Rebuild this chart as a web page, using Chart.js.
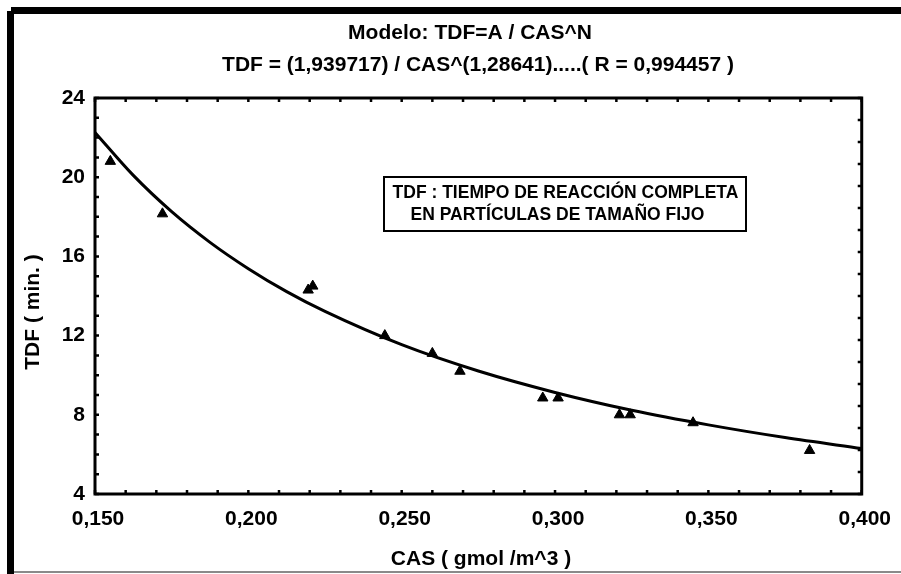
<!DOCTYPE html>
<html>
<head>
<meta charset="utf-8">
<script src="https://cdn.jsdelivr.net/npm/chart.js@4.4.1/dist/chart.umd.min.js"></script>
<style>
  html,body{margin:0;padding:0;background:#fff;}
  #wrap{width:901px;height:574px;position:relative;}
</style>
</head>
<body>
<div id="wrap"><canvas id="grafico" width="901" height="574"></canvas></div>
<script>
// puntos medidos (CAS, TDF)
const casDatos = [0.155, 0.172, 0.2195, 0.221, 0.2445, 0.260, 0.269, 0.296, 0.301, 0.321, 0.3245, 0.345, 0.383];
const tdfDatos = [20.8, 18.15, 14.3, 14.5, 12.0, 11.1, 10.2, 8.85, 8.85, 8.0, 8.0, 7.6, 6.2];

// curva ajustada
const casCurva = [0.150, 0.1625, 0.175, 0.1875, 0.200, 0.2125, 0.225, 0.250, 0.275, 0.300, 0.325, 0.350, 0.375, 0.400];
const tdfCurva = [22.26, 20.09, 18.26, 16.71, 15.38, 14.22, 13.22, 11.54, 10.21, 9.13, 8.23, 7.49, 6.85, 6.30];

const ticksX = [0.150, 0.200, 0.250, 0.300, 0.350, 0.400];
const ticksY = [4, 8, 12, 16, 20, 24];

const titulo1 = "Modelo: TDF=A / CAS^N";
const titulo2 = "TDF = (1,939717) / CAS^(1,28641).....( R = 0,994457 )";
const tituloX = "CAS ( gmol /m^3 )";
const tituloY = "TDF ( min. )";
const nota1 = "TDF : TIEMPO DE REACCIÓN COMPLETA";
const nota2 = "EN PARTÍCULAS DE TAMAÑO FIJO";

const fuente = "'Liberation Sans', Arial, sans-serif";

const decorado = {
  id: "decorado",
  beforeDraw(c){
    const ctx = c.ctx;
    ctx.save();
    ctx.fillStyle = "#fff";
    ctx.fillRect(0,0,c.width,c.height);
    // marco exterior
    ctx.fillStyle = "#000";
    ctx.fillRect(11,7,890,7);
    ctx.fillRect(7,11,7,563);
    ctx.fillStyle = "#8a8a8a";
    ctx.fillRect(14,571,887,2);
    ctx.restore();
  },
  afterDatasetsDraw(c){
    const ctx = c.ctx;
    const a = c.chartArea;
    const sx = c.scales.x, sy = c.scales.y;
    ctx.save();
    // marcas menores
    ctx.strokeStyle = "#000";
    ctx.lineWidth = 2.5;
    ctx.beginPath();
    for(let i=0;i<=25;i++){
      const px = sx.getPixelForValue(0.15 + i*0.01);
      ctx.moveTo(px,a.top); ctx.lineTo(px,a.top+4);
      ctx.moveTo(px,a.bottom); ctx.lineTo(px,a.bottom-4);
    }
    for(let v=4;v<=24;v++){
      const py = sy.getPixelForValue(v);
      ctx.moveTo(a.left,py); ctx.lineTo(a.left+4,py);
    }
    for(let i=0;i<=18;i++){
      const py = a.bottom - i*(a.bottom-a.top)/18;
      ctx.moveTo(a.right,py); ctx.lineTo(a.right-4,py);
    }
    ctx.stroke();
    // caja del grafico
    ctx.lineWidth = 3;
    ctx.strokeRect(a.left,a.top,a.right-a.left,a.bottom-a.top);

    // titulos
    ctx.fillStyle = "#000";
    ctx.font = "bold 21px " + fuente;
    ctx.textAlign = "center";
    ctx.textBaseline = "alphabetic";
    ctx.fillText(titulo1, 470, 39);
    ctx.fillText(titulo2, 478, 71);
    ctx.fillText(tituloX, 481, 565);
    ctx.save();
    ctx.translate(39,312);
    ctx.rotate(-Math.PI/2);
    ctx.fillText(tituloY, 0, 0);
    ctx.restore();

    // nota
    ctx.lineWidth = 2;
    ctx.strokeRect(384,177,362,54);
    ctx.font = "bold 17.5px " + fuente;
    ctx.fillText(nota1, 565.5, 198);
    ctx.fillText(nota2, 557.5, 220);
    ctx.restore();
  }
};

const fmt = v => Number(v).toFixed(3).replace(".", ",");

new Chart(document.getElementById("grafico"),{
  type:"scatter",
  data:{
    datasets:[
      {
        label:"curva",
        data:casCurva.map((x,i)=>({x:x,y:tdfCurva[i]})),
        showLine:true,
        borderColor:"#000",
        borderWidth:3,
        pointRadius:0,
        cubicInterpolationMode:"monotone",
        fill:false
      },
      {
        label:"datos",
        data:casDatos.map((x,i)=>({x:x,y:tdfDatos[i]})),
        pointStyle:"triangle",
        pointRadius:6,
        backgroundColor:"#000",
        borderColor:"#000",
        borderWidth:1
      }
    ]
  },
  options:{
    responsive:false,
    animation:false,
    layout:{padding:{top:98,right:36,left:0,bottom:0}},
    plugins:{legend:{display:false},tooltip:{enabled:false}},
    scales:{
      x:{
        type:"linear",
        min:0.15,max:0.4,
        afterFit:s=>{s.height=80;},
        afterBuildTicks:s=>{s.ticks=ticksX.map(v=>({value:v}));},
        grid:{display:false,drawTicks:false},
        border:{display:false},
        ticks:{
          padding:13,
          labelOffset:3,
          maxRotation:0,
          autoSkip:false,
          color:"#000",
          font:{family:fuente,size:21,weight:"bold"},
          callback:v=>fmt(v)
        }
      },
      y:{
        min:4,max:24,
        afterFit:s=>{s.width=95;},
        afterBuildTicks:s=>{s.ticks=ticksY.map(v=>({value:v}));},
        grid:{display:false,drawTicks:false},
        border:{display:false},
        ticks:{
          padding:10,
          autoSkip:false,
          color:"#000",
          font:{family:fuente,size:21,weight:"bold"}
        }
      }
    }
  },
  plugins:[decorado]
});
</script>
</body>
</html>
